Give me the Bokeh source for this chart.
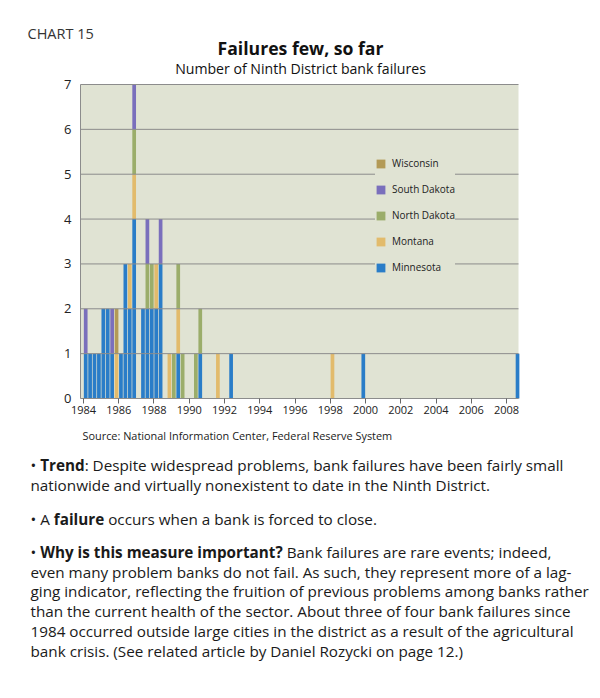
import subprocess
from bokeh.plotting import figure
from bokeh.models import (Label, Legend, LegendItem, FixedTicker, Range1d,
                          ColumnDataSource)
from bokeh.embed import file_html
from bokeh.resources import INLINE

# ---------------- data ----------------
periods = ["1984Q1", "1984Q2", "1984Q3", "1984Q4", "1985Q1", "1985Q2", "1985Q3",
           "1985Q4", "1986Q1", "1986Q2", "1986Q3", "1986Q4", "1987Q2", "1987Q3",
           "1987Q4", "1988Q1", "1988Q2", "1988Q4", "1989Q1", "1989Q2", "1989Q3",
           "1990Q2", "1990Q3", "1991Q3", "1992Q2", "1998Q1", "1999Q4", "2008Q3"]
minnesota    = [1, 1, 1, 1, 2, 2, 1, 0, 1, 3, 2, 4, 2, 2, 2, 2, 3, 0, 0, 1, 0, 0, 1, 0, 1, 0, 1, 1]
montana      = [0, 0, 0, 0, 0, 0, 0, 1, 0, 0, 1, 1, 0, 0, 0, 1, 0, 1, 0, 1, 0, 0, 0, 1, 0, 1, 0, 0]
north_dakota = [0, 0, 0, 0, 0, 0, 0, 0, 0, 0, 0, 1, 0, 1, 1, 0, 0, 0, 1, 1, 1, 1, 1, 0, 0, 0, 0, 0]
south_dakota = [1, 0, 0, 0, 0, 0, 1, 0, 0, 0, 0, 1, 0, 1, 0, 0, 1, 0, 0, 0, 0, 0, 0, 0, 0, 0, 0, 0]
wisconsin    = [0, 0, 0, 0, 0, 0, 0, 1, 0, 0, 0, 0, 0, 0, 0, 0, 0, 0, 0, 0, 0, 0, 0, 0, 0, 0, 0, 0]

states = ["Minnesota", "Montana", "North Dakota", "South Dakota", "Wisconsin"]
legend_order = ["Wisconsin", "South Dakota", "North Dakota", "Montana", "Minnesota"]
colors = ["#2a7dc8", "#e2bb6c", "#9bad6a", "#7a6fbc", "#b39a56"]
year_ticks = list(range(1984, 2009, 2))
count_ticks = list(range(0, 8))
x_start, x_end = 1983.83, 2008.68   # visible time span of the chart
y_start, y_end = 0, 7

title = "Failures few, so far"
subtitle = "Number of Ninth District bank failures"
chart_no = "CHART 15"
source_txt = "Source: National Information Center, Federal Reserve System"
paragraph_lines = [
    [("• ", False), ("Trend", True), (": Despite widespread problems, bank failures have been fairly small", False)],
    [("nationwide and virtually nonexistent to date in the Ninth District.", False)],
    [("• A ", False), ("failure ", True), ("occurs when a bank is forced to close.", False)],
    [("• ", False), ("Why is this measure important? ", True), ("Bank failures are rare events; indeed,", False)],
    [("even many problem banks do not fail. As such, they represent more of a lag-", False)],
    [("ging indicator, reflecting the fruition of previous problems among banks rather", False)],
    [("than the current health of the sector. About three of four bank failures since", False)],
    [("1984 occurred outside large cities in the district as a result of the agricultural", False)],
    [("bank crisis. (See related article by Daniel Rozycki on page 12.)", False)],
]
line_y = [464, 484, 518, 551, 571, 590, 610, 630, 650]

FONT = "Open Sans"
BG = "#e0e3d3"
W, H = 600, 698
FRAME_L = 24              # left border (px)
FRAME_B = 30              # bottom border (px)
FRAME_H = H - FRAME_B     # frame spans image y 0..FRAME_H
PX0, PX1 = 80, 518        # pixel span of chart area (x)
PY_TOP, PY_BOT = 84, 398  # pixel span of chart area (y)

def quarter_pos(label):
    y, q = label.split("Q")
    return int(y) + (int(q) - 0.5) / 4.0

# ---------- text measurement (for placing bold runs inline) ----------
_paths = {}
def _path(bold):
    if bold not in _paths:
        try:
            _paths[bold] = subprocess.run(
                ["fc-match", "-f", "%{file}", FONT + (":bold" if bold else ":regular")],
                capture_output=True, text=True, timeout=5).stdout.strip()
        except Exception:
            _paths[bold] = None
    return _paths[bold]

_fonts = {}
def _font(bold, size):
    key = (bold, size)
    if key not in _fonts:
        f = None
        try:
            from PIL import ImageFont
            f = ImageFont.truetype(_path(bold), size)
            if bold:
                try:
                    names = f.get_variation_names()
                    for n in names:
                        if (n.decode() if isinstance(n, bytes) else n) == "Bold":
                            f.set_variation_by_name(n)
                            break
                except Exception:
                    pass
        except Exception:
            f = None
        _fonts[key] = f
    return _fonts[key]

def _raw_width(s, size, bold):
    f = _font(bold, size)
    if f is not None:
        try:
            return f.getlength(s)
        except Exception:
            pass
    return None

_bold_fix = None
def text_width(s, size, bold):
    global _bold_fix
    w = _raw_width(s, size, bold)
    if w is None:
        return len(s) * size * (0.58 if bold else 0.53)
    if bold:
        if _bold_fix is None:
            probe = "Why is this measure important"
            r = _raw_width(probe, 20, False)
            b = _raw_width(probe, 20, True)
            _bold_fix = 1.08 if (r and b and b / r < 1.03) else 1.0
        w *= _bold_fix
    return w

def fit(s, bold, target, default):
    w = text_width(s, 20, bold)
    if not w:
        return default
    return round(20.0 * target / w, 2)

# ---------------- figure ----------------
xscale = (PX1 - PX0) / (x_end - x_start)
yscale = (PY_BOT - PY_TOP) / (y_end - y_start)
xr = Range1d(x_start - (PX0 - FRAME_L) / xscale, x_end + (W - PX1) / xscale)
yr = Range1d(y_start - (FRAME_H - PY_BOT) / yscale, y_end + PY_TOP / yscale)

src = ColumnDataSource(dict(x=[quarter_pos(s) for s in periods],
                            Minnesota=minnesota, Montana=montana,
                            **{"North Dakota": north_dakota,
                               "South Dakota": south_dakota},
                            Wisconsin=wisconsin))

p = figure(width=W, height=H, output_backend="svg", toolbar_location=None,
           x_range=xr, y_range=yr,
           min_border_left=FRAME_L, min_border_right=0, min_border_top=0,
           min_border_bottom=FRAME_B)
p.background_fill_color = "white"
p.border_fill_color = "white"
p.outline_line_color = None
p.grid.visible = False

# plot-area background
p.quad(left=[x_start], right=[x_end], bottom=[y_start], top=[y_end],
       fill_color=BG, line_color=None)

rs = p.vbar_stack(states, x="x", width=0.21, fill_color=colors, line_color=None,
                  source=src)

# horizontal grid lines over the bars, limited to the chart area
gl = p.segment(x0=[x_start] * (len(count_ticks) - 1),
               x1=[x_end] * (len(count_ticks) - 1),
               y0=count_ticks[1:], y1=count_ticks[1:],
               line_color="#8c8c8c", line_width=1)
gl.level = "guide"

p.xaxis.ticker = FixedTicker(ticks=year_ticks)
p.xaxis.fixed_location = y_start
p.xaxis.bounds = (x_start, x_end)
p.xaxis.major_tick_in = 0
p.xaxis.major_tick_out = 5
p.xaxis.minor_tick_out = 0
p.xaxis.minor_tick_in = 0
p.xaxis.axis_line_color = "#8c8c8c"
p.xaxis.major_tick_line_color = "#666666"
p.xaxis.major_label_text_font = FONT
p.xaxis.major_label_text_font_size = "11px"
p.xaxis.major_label_text_color = "#222222"
p.xaxis.major_label_standoff = 2

p.yaxis.ticker = FixedTicker(ticks=count_ticks)
p.yaxis.fixed_location = x_start
p.yaxis.bounds = (y_start, y_end)
p.yaxis.major_tick_in = 0
p.yaxis.major_tick_out = 0
p.yaxis.minor_tick_out = 0
p.yaxis.minor_tick_in = 0
p.yaxis.axis_line_color = "#8c8c8c"
p.yaxis.major_label_text_font = FONT
p.yaxis.major_label_text_font_size = "13px"
p.yaxis.major_label_text_color = "#222222"
p.yaxis.major_label_standoff = 9

by_state = dict(zip(states, rs))
legend = Legend(items=[LegendItem(label=s, renderers=[by_state[s]])
                       for s in legend_order],
                location=(375 - FRAME_L, FRAME_H - 274))
legend.background_fill_color = BG
legend.background_fill_alpha = 1.0
legend.border_line_color = None
legend.glyph_width = 11
legend.glyph_height = 11
legend.label_height = 14
legend.label_standoff = 6
legend.spacing = 12
legend.padding = 10
legend.margin = 0
legend.label_text_font = FONT
legend.label_text_font_size = f"{fit('South Dakota', False, 63, 11)}px"
legend.label_text_color = "#222222"
p.add_layout(legend)

# ---------------- texts (screen units, relative to the frame) ----------------
def add_text(x_img, y_img, text, size, bold=False, align="left", color="#1a1a1a"):
    p.add_layout(Label(x=x_img - FRAME_L, y=FRAME_H - y_img,
                       x_units="screen", y_units="screen", text=text,
                       text_font=FONT, text_font_size=f"{size}px",
                       text_font_style="bold" if bold else "normal",
                       text_align=align, text_baseline="middle",
                       text_color=color))

add_text(27, 33, chart_no, 14.5, color="#333333")
add_text(300, 47, title, fit(title, True, 166, 17), bold=True,
         align="center", color="#111111")
add_text(300, 68, subtitle, fit(subtitle, False, 251, 13.5),
         align="center", color="#111111")
add_text(82, 435, source_txt, fit(source_txt, False, 310, 11))

s1 = fit(paragraph_lines[1][0][0], False, 468, 15)
s2 = fit(paragraph_lines[7][0][0], False, 545, 15)
body_size = round((s1 + s2) / 2.0 * 0.99, 2)
for segs, yy in zip(paragraph_lines, line_y):
    xx = 30.0
    for txt, b in segs:
        add_text(xx, yy, txt, body_size, bold=b)
        xx += text_width(txt, body_size, b)

open("out.html", "w").write(file_html(p, INLINE))
